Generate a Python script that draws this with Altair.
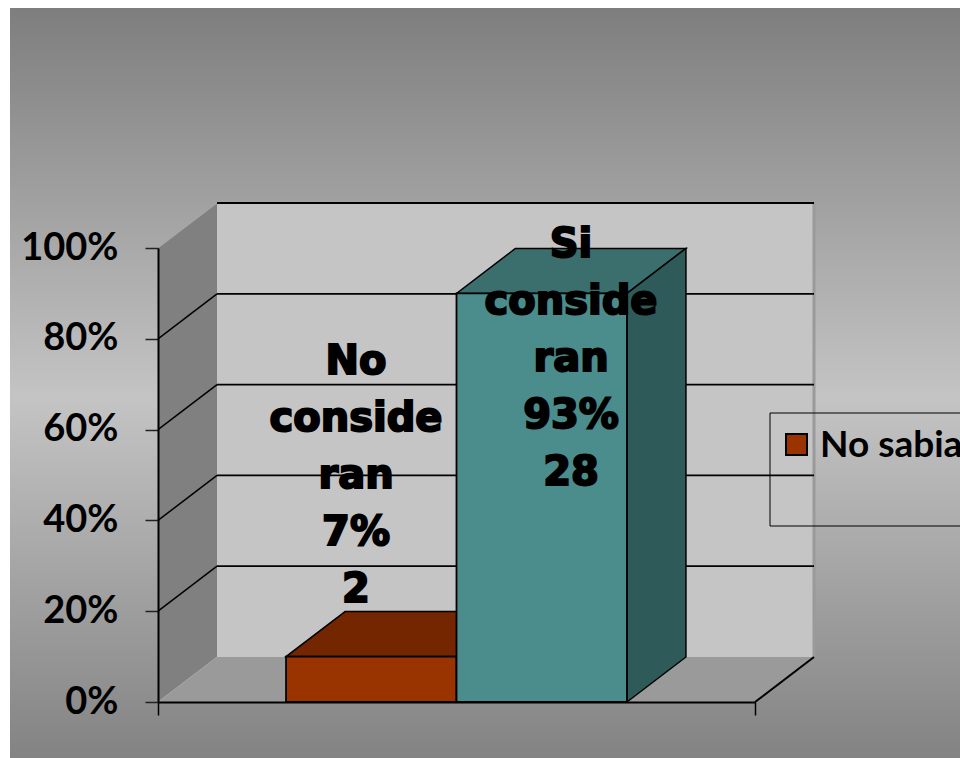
import altair as alt
import pandas as pd

# ---------------- data ----------------
series = ["No consideran", "Si consideran"]
counts = [2, 28]
pct_text = ["7%", "93%"]
bar_values = [0.10, 0.90]          # bar heights as drawn in the picture
label_words = [["No", "conside", "ran"], ["Si", "conside", "ran"]]
y_ticks = [0, 0.2, 0.4, 0.6, 0.8, 1.0]
legend_label = "No sabia"

front_colors = ["#993300", "#4b8d8d"]
top_colors = ["#732600", "#3a6f6e"]
side_colors = ["#5a1e00", "#2f5a5a"]

# ---------------- layout constants ----------------
W, H = 597, 454
DX, DY = 59 / 597, 45 / 454       # 3-D depth in data units
BAR_W = 0.2855

xs = alt.Scale(domain=[0, 1], nice=False, zero=False)
ys = alt.Scale(domain=[0, 1], nice=False, zero=False)
xaxis = alt.Axis(values=[0, 1], labels=False, title=None, tickSize=13,
                 domainColor="black", tickColor="black", domainWidth=2,
                 tickWidth=1.5, grid=False, zindex=1)
yaxis = alt.Axis(values=y_ticks, format=".0%", title=None, tickSize=13,
                 domainColor="black", tickColor="#222222", domainWidth=2,
                 tickWidth=1.5, grid=False, labelFont="Lato", labelFontSize=38,
                 labelFontWeight="bold", labelColor="black", labelPadding=27,
                 zindex=1)


def X(f):
    return alt.X(f, type="quantitative", scale=xs, axis=xaxis, stack=None)


def Y(f):
    return alt.Y(f, type="quantitative", scale=ys, axis=yaxis, stack=None)


layers = []

# background gradient
bg = alt.Chart(pd.DataFrame({"a": [0]})).mark_rect(
    fill=alt.Gradient(gradient="linear", x1=0, x2=0, y1=0, y2=1,
                      stops=[alt.GradientStop(offset=0, color="#7e7e7e"),
                             alt.GradientStop(offset=0.52, color="#c4c4c4"),
                             alt.GradientStop(offset=1, color="#838383")])
).encode(x=alt.value(-148), x2=alt.value(802), y=alt.value(-240), y2=alt.value(510))
layers.append(bg)

# floor
floor_df = pd.DataFrame({"y": [0, DY], "x": [0, DX], "x2": [1, 1 + DX]})
layers.append(alt.Chart(floor_df).mark_area(orient="horizontal", color="#9a9a9a")
              .encode(y=Y("y"), x=X("x"), x2="x2"))

# back wall
back_df = pd.DataFrame({"x": [DX], "x2": [1 + DX], "y": [DY], "y2": [1 + DY]})
layers.append(alt.Chart(back_df).mark_rect(color="#c5c5c5")
              .encode(x=X("x"), x2="x2", y=Y("y"), y2="y2"))

# side wall
side_df = pd.DataFrame({"x": [0, DX], "y": [0, DY], "y2": [1, 1 + DY]})
layers.append(alt.Chart(side_df).mark_area(orient="vertical", color="#808080")
              .encode(x=X("x"), y=Y("y"), y2="y2"))

# back wall right edge
edge_df = pd.DataFrame({"x": [1 + DX], "y": [DY], "y2": [1 + DY]})
layers.append(alt.Chart(edge_df).mark_rule(color="#9a9a9a", strokeWidth=3)
              .encode(x=X("x"), y=Y("y"), y2="y2"))

# gridlines on back wall
grid_df = pd.DataFrame({"x": [DX] * 5, "x2": [1 + DX] * 5,
                        "y": [t + DY for t in y_ticks[1:]]})
layers.append(alt.Chart(grid_df).mark_rule(color="black", strokeWidth=1.8)
              .encode(x=X("x"), x2="x2", y=Y("y")))

# diagonals on side wall
diag_df = pd.DataFrame({"x": [0] * 4, "x2": [DX] * 4,
                        "y": y_ticks[1:5], "y2": [t + DY for t in y_ticks[1:5]]})
layers.append(alt.Chart(diag_df).mark_rule(color="black", strokeWidth=1.5)
              .encode(x=X("x"), x2="x2", y=Y("y"), y2="y2"))
faint_df = pd.DataFrame({"x": [0, 0], "x2": [DX, DX],
                         "y": [0, 1], "y2": [DY, 1 + DY]})
layers.append(alt.Chart(faint_df).mark_rule(color="#a8a8a8", strokeWidth=1)
              .encode(x=X("x"), x2="x2", y=Y("y"), y2="y2"))

# floor right edge
fr_df = pd.DataFrame({"x": [1], "x2": [1 + DX], "y": [0], "y2": [DY]})
layers.append(alt.Chart(fr_df).mark_rule(color="black", strokeWidth=2)
              .encode(x=X("x"), x2="x2", y=Y("y"), y2="y2"))

# bars
for i, v in enumerate(bar_values):
    x0 = 0.5 - BAR_W + i * BAR_W
    x1 = x0 + BAR_W
    top_df = pd.DataFrame({"y": [v, v + DY], "x": [x0, x0 + DX], "x2": [x1, x1 + DX]})
    side_b = pd.DataFrame({"x": [x1, x1 + DX], "y": [0, DY], "y2": [v, v + DY]})
    front_df = pd.DataFrame({"x": [x0], "x2": [x1], "y": [0], "y2": [v],
                             "serie": [series[i]], "n": [counts[i]]})
    layers.append(alt.Chart(top_df).mark_area(orient="horizontal", color=top_colors[i],
                                              stroke="black", strokeWidth=1.5)
                  .encode(y=Y("y"), x=X("x"), x2="x2"))
    layers.append(alt.Chart(side_b).mark_area(orient="vertical", color=side_colors[i],
                                              stroke="black", strokeWidth=1.5)
                  .encode(x=X("x"), y=Y("y"), y2="y2"))
    layers.append(alt.Chart(front_df).mark_rect(color=front_colors[i],
                                                stroke="black", strokeWidth=1.8)
                  .encode(x=X("x"), x2="x2", y=Y("y"), y2="y2"))

# data labels (y = centre of first line)
label_pos = [(356 - 158, 362 - 248), (571 - 158, 245 - 248)]
for i in range(2):
    txt = "\n".join(label_words[i] + [pct_text[i], str(counts[i])])
    ldf = pd.DataFrame({"t": [txt]})
    layers.append(alt.Chart(ldf).mark_text(
        font="DejaVu Sans", fontWeight="bold", fontSize=40, lineBreak="\n",
        lineHeight=57, color="black", stroke="black", strokeWidth=2,
        align="center", baseline="middle"
    ).encode(text="t:N", x=alt.value(label_pos[i][0]), y=alt.value(label_pos[i][1])))

# legend
leg_df = pd.DataFrame({"t": [legend_label]})
layers.append(alt.Chart(leg_df).mark_rect(fill="transparent", stroke="black", strokeWidth=1)
              .encode(x=alt.value(612), x2=alt.value(830), y=alt.value(165), y2=alt.value(278)))
layers.append(alt.Chart(leg_df).mark_rect(fill=front_colors[0], stroke="black", strokeWidth=2)
              .encode(x=alt.value(628), x2=alt.value(649), y=alt.value(186), y2=alt.value(207)))
layers.append(alt.Chart(leg_df).mark_text(font="Lato", fontWeight="bold", fontSize=37,
                                          align="left", baseline="middle", color="black")
              .encode(text="t:N", x=alt.value(662), y=alt.value(198)))

chart = alt.layer(*layers).properties(
    width=W, height=H,
    padding={"left": 158, "top": 248, "right": 205, "bottom": 56},
    autosize=alt.AutoSizeParams(type="none"),
    background="white",
).configure_view(strokeWidth=0)

chart.save("out.html", embed_options={"renderer": "svg", "actions": False})
